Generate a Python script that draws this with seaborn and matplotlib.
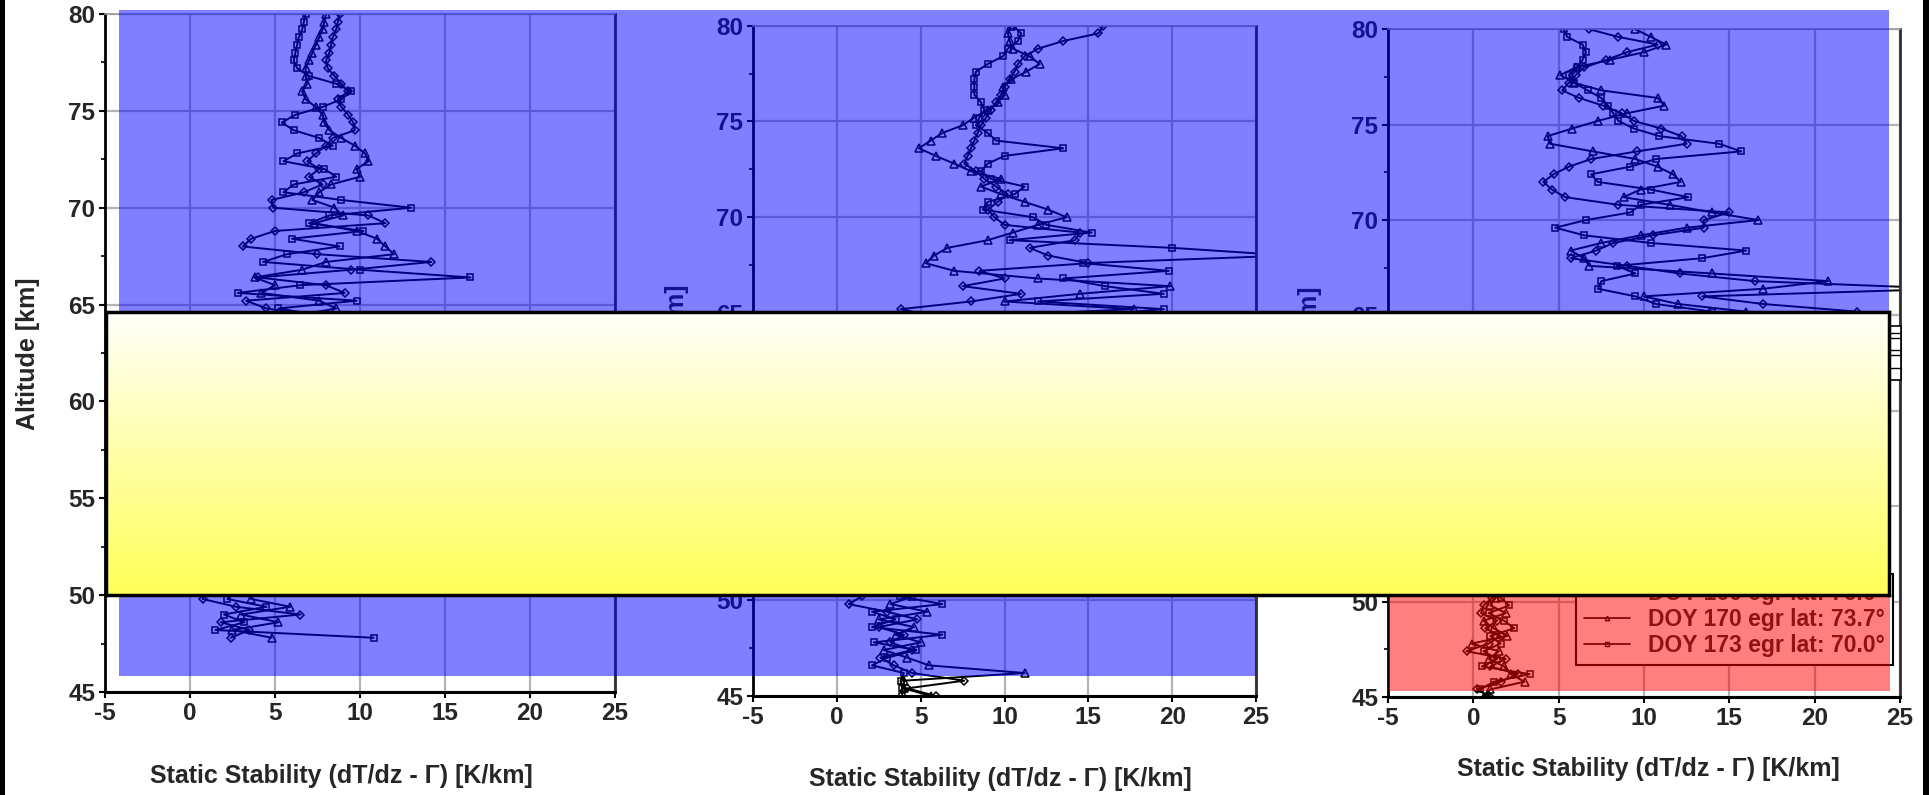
import numpy as np
import matplotlib
matplotlib.use("Agg")
import matplotlib.pyplot as plt
import seaborn as sns
from matplotlib.patches import Polygon, Rectangle
from matplotlib.lines import Line2D

# ---------------- data ----------------
ALT_TOP = [80.0, 79.6, 79.2, 78.8, 78.4, 78.0, 77.6, 77.2, 76.8, 76.4, 76.0, 75.6, 75.2, 74.8,
           74.4, 74.0, 73.6, 73.2, 72.8, 72.4, 72.0, 71.6, 71.2, 70.8, 70.4, 70.0, 69.6, 69.2,
           68.8, 68.4, 68.0, 67.6, 67.2, 66.8, 66.4, 66.0, 65.6, 65.2, 64.8, 64.4]
ALT_MID = [64.0, 63.0, 62.0, 61.0, 60.0, 59.0, 58.0, 57.0, 56.0, 55.0, 54.0, 53.0, 52.0, 51.0]
ALT_BOT = [50.6, 50.2, 49.8, 49.4, 49.0, 48.6, 48.2, 47.8, 47.4, 47.0, 46.6, 46.2, 45.8, 45.4, 45.0]

# panel 1
p1_sq = [6.8, 6.7, 6.6, 6.4, 6.3, 6.2, 6.1, 6.3, 7.0, 8.6, 9.5, 8.9, 7.8, 6.2, 5.4, 6.1, 7.6, 8.4, 6.3, 5.5,
         7.9, 8.6, 6.1, 5.5, 8.9, 13.0, 8.2, 7.0, 10.2, 6.0, 8.8, 5.7, 4.3, 10.0, 16.5, 6.5, 2.8, 9.8, 5.2, 8.0,
         4.0, 6.5, 3.0, 5.5, 2.5, 6.0, 4.0, 3.0, 5.0, 2.0, 4.5, 3.5, 2.5, 3.8,
         3.0, 2.6, 2.2, 4.5, 2.0, 3.2, 1.5, 10.8]
p1_tri = [8.0, 7.9, 7.8, 7.6, 7.4, 7.2, 7.0, 6.8, 6.8, 6.9, 6.6, 6.8, 7.4, 7.8, 7.9, 8.2, 8.9, 9.7, 10.3, 10.5,
          9.8, 10.0, 8.3, 7.6, 7.2, 8.5, 9.0, 7.3, 9.8, 11.0, 11.5, 12.0, 8.0, 6.6, 3.8, 5.0, 4.2, 7.6, 8.6, 6.0,
          5.5, 3.0, 6.0, 4.0, 5.5, 3.0, 5.0, 2.5, 4.0, 3.5, 2.0, 4.5, 3.0, 2.2,
          2.8, 3.3, 3.6, 5.9, 3.0, 5.2, 2.5, 4.8]
p1_dia = [8.8, 8.7, 8.6, 8.4, 8.3, 8.2, 8.0, 8.1, 8.5, 8.9, 9.3, 8.7, 8.9, 9.3, 9.6, 9.7, 8.4, 8.0, 7.4, 6.9,
          7.6, 7.0, 7.8, 6.7, 4.8, 4.9, 10.5, 11.5, 5.0, 3.6, 3.1, 7.5, 14.2, 9.5, 4.0, 8.0, 9.1, 3.3, 4.5, 7.5,
          3.5, 5.0, 2.5, 7.0, 3.5, 4.5, 2.0, 6.0, 3.0, 4.5, 3.0, 2.0, 3.5, 1.8,
          1.5, 0.8, 0.75, 2.7, 6.5, 1.8, 3.5, 2.4]

# panel 2
p2_sq = [10.5, 11.0, 10.8, 10.2, 9.9, 9.0, 8.3, 8.2, 8.2, 8.2, 8.6, 8.8, 8.5, 8.3, 9.0, 9.5, 13.5, 10.0, 9.0, 8.6,
         9.2, 11.2, 10.6, 9.0, 8.7, 11.7, 12.5, 15.2, 10.3, 20.0, 27.0, 14.7, 19.8, 13.5, 16.0, 19.5, 12.0, 19.5, 14.0, 17.0,
         12.0, 6.0, 9.0, 5.0, 8.0, 4.5, 7.0, 5.5, 3.0, 6.0, 4.0, 5.5, 3.0, 5.0,
         4.0, 3.75, 6.3, 2.1, 3.5, 2.1, 6.3, 2.2, 4.75, 3.0, 2.1, 4.0, 3.8, 3.9, 3.9]
p2_tri = [10.4, 10.2, 10.3, 10.5, 11.5, 12.1, 11.3, 10.4, 9.9, 10.0, 9.6, 9.0, 8.2, 7.5, 6.3, 5.6, 4.9, 5.9, 7.0, 8.0,
          9.8, 8.6, 9.8, 11.2, 12.6, 13.7, 12.0, 10.5, 9.0, 6.6, 5.8, 5.3, 7.0, 12.0, 19.9, 14.5, 10.0, 17.7, 8.0, 12.0,
          9.0, 5.0, 7.5, 4.0, 6.5, 5.0, 3.5, 6.0, 4.5, 3.0, 5.0, 2.5, 4.0, 3.0,
          3.5, 4.5, 3.2, 5.4, 2.5, 4.6, 3.5, 5.0, 2.8, 4.2, 5.5, 11.2, 4.0, 4.0, 5.6]
p2_dia = [15.9, 15.6, 13.5, 12.0, 11.2, 10.8, 10.6, 10.3, 10.0, 9.8, 9.5, 9.2, 8.9, 8.6, 8.4, 8.2, 8.0, 7.8, 7.6, 8.3,
          8.8, 9.5, 10.2, 9.6, 9.0, 9.4, 10.0, 14.5, 14.2, 11.5, 12.6, 15.0, 8.5, 10.0, 7.5, 11.0, 8.0, 3.8, 6.0, 9.0,
          5.0, 8.0, 4.0, 6.5, 3.5, 5.5, 4.0, 2.5, 5.0, 3.5, 2.0, 4.0, 2.5, 1.5,
          2.0, 1.5, 0.7, 3.0, 4.8, 2.5, 4.0, 3.2, 4.5, 2.6, 3.4, 4.5, 7.6, 4.2, 5.9]

# panel 3
p3_sq = [5.3, 5.5, 6.4, 6.6, 6.4, 6.1, 5.6, 5.9, 6.7, 7.5, 7.9, 8.2, 8.5, 9.4, 10.9, 14.4, 15.7, 10.7, 9.2, 6.9,
         7.3, 10.4, 12.6, 9.8, 9.2, 6.6, 4.8, 6.5, 10.4, 16.0, 13.4, 8.4, 9.5, 7.5, 7.3, 9.5, 10.7, 14.0, 8.0, 11.0,
         9.0, 6.0, 4.0, 3.0, 2.5, 2.0, 1.5, 2.0, 1.2, 1.8, 1.0, 1.5, 0.8, 1.3,
         1.2, 1.6, 2.1, 0.9, 1.8, 2.4, 1.0, 1.6, 0.6, 1.4, 0.5, 3.3, 1.2, 0.4, 0.8]
p3_tri = [9.5, 10.4, 11.3, 10.0, 8.0, 6.0, 5.1, 5.9, 7.5, 10.8, 11.2, 9.0, 7.3, 5.8, 4.35, 4.5, 7.0, 9.5, 10.8, 11.7,
          12.15, 9.8, 8.8, 11.5, 14.0, 16.7, 12.5, 9.8, 7.5, 5.7, 6.5, 6.8, 14.0, 20.8, 17.0, 10.0, 12.0, 16.0, 9.0, 14.0,
          8.0, 5.0, 3.5, 2.5, 2.0, 1.6, 2.2, 1.0, 1.6, 0.8, 1.4, 1.1, 1.8, 1.0,
          0.8, 1.3, 1.0, 1.9, 0.6, 1.2, 2.0, -0.1, 1.5, 0.9, 1.8, 2.2, 3.0, 1.0, 0.6]
p3_dia = [6.8, 8.5, 10.8, 9.0, 7.8, 6.5, 6.0, 5.6, 5.2, 6.2, 7.6, 8.7, 9.4, 11.0, 12.2, 12.5, 9.6, 6.9, 5.6, 4.7,
          4.1, 4.6, 5.4, 8.5, 15.0, 13.5, 13.5, 10.5, 8.2, 7.2, 5.7, 9.0, 12.1, 16.5, 28.0, 13.4, 17.0, 22.5, 12.0, 7.0,
          10.0, 4.0, 3.0, 2.2, 3.0, 1.5, 1.0, 1.8, 0.9, 1.4, 2.0, 0.7, 1.2, 1.6,
          1.5, 1.1, 0.6, 0.45, 1.4, 0.7, 1.6, 0.9, -0.4, 1.9, 1.0, 2.6, 1.6, 0.2, 1.0]

X_TICKS = [-5, 0, 5, 10, 15, 20, 25]
Y_TICKS = [45, 50, 55, 60, 65, 70, 75, 80]
Y_MINOR = [47.5, 52.5, 57.5, 62.5, 67.5, 72.5, 77.5]
XLABEL = "Static Stability (dT/dz - \u0393) [K/km]"
YLABEL = "Altitude [km]"
LEGEND_LABELS = ["DOY 166 egr lat: 76.6\u00b0", "DOY 170 egr lat: 73.7\u00b0", "DOY 173 egr lat: 70.0\u00b0"]

# ---------------- style ----------------
sns.set_theme(style="white")
plt.rcParams["font.family"] = ["Liberation Sans", "DejaVu Sans"]
plt.rcParams["font.weight"] = "bold"
plt.rcParams["axes.labelweight"] = "bold"
plt.rcParams["axes.unicode_minus"] = False

W, H = 1929, 795
fig = plt.figure(figsize=(W / 100, H / 100), dpi=100)
fig.patch.set_facecolor("white")


def fx(px):
    return px / W


def fy(py):
    return 1 - py / H


# axes rectangles in pixels: left, right, top, bottom
rects = [(105, 615, 14, 692), (753, 1256, 25.7, 696), (1388, 1900, 29.3, 697)]
panels = [(p1_dia, p1_tri, p1_sq), (p2_dia, p2_tri, p2_sq), (p3_dia, p3_tri, p3_sq)]
styles = [("D", 4.2), ("^", 5.8), ("s", 5.0)]
ALT_ALL = ALT_TOP + ALT_MID + ALT_BOT

axes = []
for (l, r, t, b), series in zip(rects, panels):
    ax = fig.add_axes([fx(l), fy(b), fx(r - l), (b - t) / H])
    ax.set_facecolor("white")
    for vals, (mk, ms) in zip(series, styles):
        alts = ALT_ALL[:len(vals)]
        sns.lineplot(x=vals, y=alts, sort=False, estimator=None, ax=ax,
                     color="black", lw=1.4, marker=mk, markersize=ms,
                     markerfacecolor="none", markeredgecolor="black",
                     markeredgewidth=1.1, legend=False)
    ax.set_xlim(-5, 25)
    ax.set_ylim(45, 80)
    ax.set_xticks(X_TICKS)
    ax.set_yticks(Y_TICKS)
    ax.set_yticks(Y_MINOR, minor=True)
    ax.grid(True, which="major", color="#B4B4B4", lw=1.6)
    ax.set_axisbelow(True)
    ax.set_xlabel("")
    ax.set_ylabel("")
    ax.tick_params(axis="both", which="major", labelsize=17.5, length=4, width=1.5,
                   color="black", direction="out", pad=3, bottom=True, left=True)
    ax.tick_params(axis="y", which="minor", length=3, width=1.2, color="black",
                   direction="out", left=True)
    for lab in ax.get_xticklabels() + ax.get_yticklabels():
        lab.set_fontweight("bold")
    ax.spines["left"].set_color("black")
    ax.spines["left"].set_linewidth(2.0)
    ax.spines["bottom"].set_color("black")
    ax.spines["bottom"].set_linewidth(2.2)
    ax.spines["right"].set_color("#303030")
    ax.spines["right"].set_linewidth(2.0)
    ax.spines["top"].set_color("#9A9A9A")
    ax.spines["top"].set_linewidth(1.2)
    axes.append(ax)

# axis labels as figure text
for (x, y) in [(341, 776), (1000, 779), (1648, 769)]:
    fig.text(fx(x), fy(y), XLABEL, ha="center", va="center", fontsize=18, fontweight="bold")
for (x, y) in [(28, 354), (677, 361), (1310, 363)]:
    fig.text(fx(x), fy(y), YLABEL, ha="center", va="center", rotation=90, fontsize=18, fontweight="bold")

# legend of panel 3
handles = [Line2D([], [], color="black", lw=1.2, marker=m, markersize=3.2,
                  markerfacecolor="none", markeredgecolor="black") for m, _ in styles]
leg = fig.legend(handles, LEGEND_LABELS, loc="lower right",
                 bbox_to_anchor=(fx(1893), fy(665)), bbox_transform=fig.transFigure,
                 frameon=True, fancybox=False, edgecolor="black", facecolor="white",
                 framealpha=1, prop={"weight": "bold", "size": 16.5}, borderaxespad=0,
                 handlelength=2.0, handletextpad=0.8, labelspacing=0.12, borderpad=0.35)
leg.get_frame().set_linewidth(1.5)
leg.set_zorder(5)

# translucent highlight overlays
blue_px = [(119, 10), (1889, 10), (1889, 450), (1256, 450), (1256, 676), (119, 676)]
fig.add_artist(Polygon([(fx(x), fy(y)) for x, y in blue_px], closed=True,
                       transform=fig.transFigure, facecolor=(0, 0, 1, 0.5),
                       edgecolor="none", zorder=8))
red_px = [(1389, 560), (1890, 560), (1890, 691), (1389, 691)]
fig.add_artist(Polygon([(fx(x), fy(y)) for x, y in red_px], closed=True,
                       transform=fig.transFigure, facecolor=(1, 0, 0, 0.5),
                       edgecolor="none", zorder=8))

# small stacked boxes peeking out at the right edge
fig.add_artist(Rectangle((fx(1889), fy(380)), fx(12), 54 / H, transform=fig.transFigure,
                         facecolor="white", edgecolor="black", lw=1.2, zorder=9))
for yy in [333, 338, 350, 355, 368]:
    fig.add_artist(Line2D([fx(1889), fx(1901)], [fy(yy), fy(yy)], transform=fig.transFigure,
                          color="black", lw=1.0, zorder=9))

# yellow gradient box on top
yb = fig.add_axes([fx(106), fy(595), fx(1889 - 106), (595 - 312) / H], zorder=10)
top = np.array([255, 255, 250]) / 255.0
bot = np.array([255, 255, 88]) / 255.0
t = np.linspace(0, 1, 256)[:, None, None]
grad = top[None, None, :] * (1 - t) + bot[None, None, :] * t
yb.imshow(grad, aspect="auto", extent=[0, 1, 0, 1], origin="upper", interpolation="bilinear")
yb.set_xlim(0, 1)
yb.set_ylim(0, 1)
yb.set_xticks([])
yb.set_yticks([])
for s in yb.spines.values():
    s.set_color("black")
    s.set_linewidth(2.5)
    s.set_visible(True)

# black side borders of the picture
fig.add_artist(Rectangle((0, 0), fx(5), 1, transform=fig.transFigure,
                         facecolor="black", edgecolor="none", zorder=20))
fig.add_artist(Rectangle((fx(1923), 0), fx(6), 1, transform=fig.transFigure,
                         facecolor="black", edgecolor="none", zorder=20))

fig.savefig("out.png", dpi=100, facecolor="white")
